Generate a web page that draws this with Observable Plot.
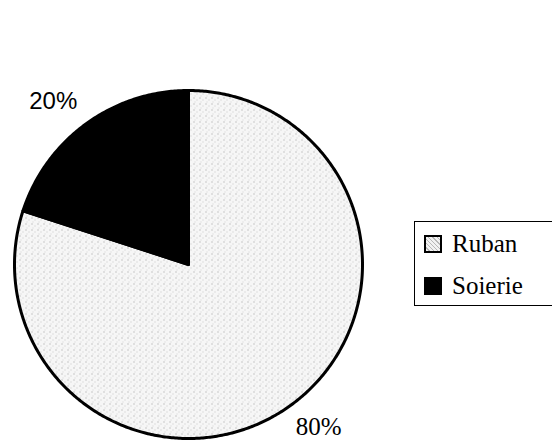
<!DOCTYPE html>
<html>
<head>
<meta charset="utf-8">
<script src="https://cdn.jsdelivr.net/npm/d3@7"></script>
<script src="https://cdn.jsdelivr.net/npm/@observablehq/plot@0.6"></script>
<style>
  html, body { margin: 0; padding: 0; background: #fff; }
  #wrap { position: relative; width: 552px; height: 441px; overflow: hidden; }
  #legend {
    position: absolute; left: 414px; top: 221px; width: 160px; height: 85px;
    border: 1.5px solid #000; box-sizing: border-box; background: #fff;
    font-family: "Liberation Serif", "Times New Roman", serif; font-size: 25px; color: #000;
  }
  .item { position: absolute; left: 9px; display: flex; align-items: center; }
  .sw { width: 18px; height: 18px; box-sizing: border-box; border: 2px solid #000; margin-right: 10px; }
</style>
</head>
<body>
<div id="wrap">
  <div id="chart"></div>
  <div id="legend"></div>
</div>
<script>
// Share of production by product
const categories = ["Ruban", "Soierie"];
const shares = [80, 20];
const labels = ["80%", "20%"];

const fills = { Ruban: "url(#ruban-dots)", Soierie: "#000" };

// Slice angles, clockwise from 12 o'clock
const arcs = d3.pie().sort(null).value(d => d.share)(
  categories.map((name, i) => ({ name, share: shares[i], label: labels[i] }))
);

// Outline polygon for each slice on the unit circle
function slicePoints(a) {
  const pts = [{ name: a.data.name, x: 0, y: 0 }];
  const n = Math.max(2, Math.ceil((a.endAngle - a.startAngle) / 0.01));
  for (let k = 0; k <= n; k++) {
    const t = a.startAngle + (a.endAngle - a.startAngle) * k / n;
    pts.push({ name: a.data.name, x: Math.sin(t), y: Math.cos(t) });
  }
  pts.push({ name: a.data.name, x: 0, y: 0 });
  return pts;
}

// Percent labels just outside the rim, at each slice's mid angle
const labelPoints = arcs.map(a => {
  const m = (a.startAngle + a.endAngle) / 2;
  return { name: a.data.name, label: a.data.label, x: 1.215 * Math.sin(m), y: 1.215 * Math.cos(m) };
});

const W = 552, H = 441, cx = 188, cy = 264, R = 174;

const chart = Plot.plot({
  width: W, height: H,
  margin: 0,
  x: { domain: [-cx / R, (W - cx) / R], range: [0, W], axis: null },
  y: { domain: [-(H - cy) / R, cy / R], range: [H, 0], axis: null },
  marks: [
    ...arcs.map(a => Plot.line(slicePoints(a), {
      x: "x", y: "y", fill: fills[a.data.name], stroke: "#000", strokeWidth: 3,
      strokeLinejoin: "round"
    })),
    Plot.text(labelPoints.filter(d => d.name === "Soierie"), {
      x: "x", y: "y", text: "label", fontSize: 24, dx: -11, dy: 8,
      fontFamily: "Liberation Sans, Arial, sans-serif", fill: "#000"
    }),
    Plot.text(labelPoints.filter(d => d.name === "Ruban"), {
      x: "x", y: "y", text: "label", fontSize: 25, dx: 6, dy: -9,
      fontFamily: "Liberation Serif, Times New Roman, serif", fill: "#000"
    })
  ]
});

// Stippled light-grey fill used by the Ruban slice
const defs = d3.select(chart).insert("defs", ":first-child");
const pat = defs.append("pattern").attr("id", "ruban-dots")
  .attr("patternUnits", "userSpaceOnUse").attr("width", 6).attr("height", 6);
pat.append("rect").attr("width", 6).attr("height", 6).attr("fill", "#f6f6f6");
pat.append("rect").attr("x", 1).attr("y", 1).attr("width", 1).attr("height", 1).attr("fill", "#9a9a9a");
pat.append("rect").attr("x", 4).attr("y", 3).attr("width", 1).attr("height", 1).attr("fill", "#c4c4c4");
pat.append("rect").attr("x", 2).attr("y", 5).attr("width", 1).attr("height", 1).attr("fill", "#d0d0d0");

document.getElementById("chart").appendChild(chart);

// Legend
const legend = document.getElementById("legend");
const swatchFill = { Ruban: "repeating-linear-gradient(45deg, #f2f2f2 0 2px, #b8b8b8 2px 3px)", Soierie: "#000" };
categories.forEach((name, i) => {
  const item = document.createElement("div");
  item.className = "item";
  item.style.top = (i === 0 ? 8 : 50) + "px";
  const sw = document.createElement("span");
  sw.className = "sw";
  sw.style.background = swatchFill[name];
  const tx = document.createElement("span");
  tx.textContent = name;
  item.appendChild(sw);
  item.appendChild(tx);
  legend.appendChild(item);
});
</script>
</body>
</html>
